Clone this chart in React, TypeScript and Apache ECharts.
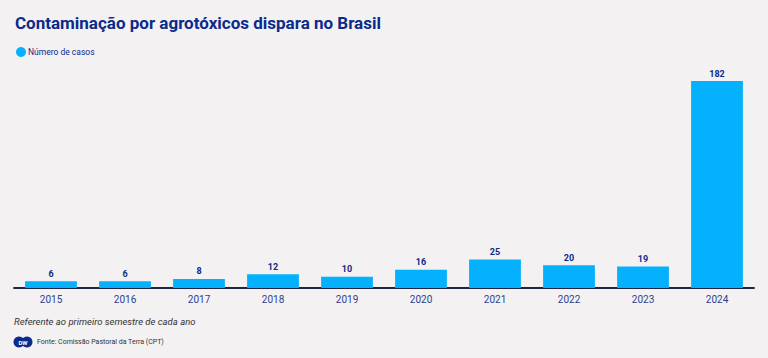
import React, { useEffect, useRef } from "react";
import * as echarts from "echarts";

const categories = ["2015", "2016", "2017", "2018", "2019", "2020", "2021", "2022", "2023", "2024"];
const casos = [6, 6, 8, 12, 10, 16, 25, 20, 19, 182];

const title = "Contaminação por agrotóxicos dispara no Brasil";
const seriesName = "Número de casos";
const note = "Referente ao primeiro semestre de cada ano";
const source = "Fonte: Comissão Pastoral da Terra (CPT)";

const NAVY = "#0b2a8a";
const BAR = "#05b1fc";
const FONT = "Roboto, 'Noto Sans', sans-serif";

export default function App() {
  const ref = useRef<HTMLDivElement>(null);
  useEffect(() => {
    if (!ref.current) return;
    const chart = echarts.init(ref.current, undefined, { renderer: "svg" });
    chart.setOption({
      animation: false,
      backgroundColor: "#f3f1f2",
      textStyle: { fontFamily: FONT },
      title: {
        text: title,
        left: 10,
        top: 9,
        textStyle: { color: NAVY, fontSize: 17, fontWeight: "bold", fontFamily: FONT },
      },
      legend: {
        left: 11,
        top: 42,
        icon: "circle",
        itemWidth: 10,
        itemHeight: 10,
        itemGap: 3,
        textStyle: { color: NAVY, fontSize: 8.5, fontFamily: FONT, padding: [0, 0, 0, -3] },
        data: [seriesName],
      },
      grid: { left: 14, right: 14, top: 81, bottom: 70, containLabel: false },
      xAxis: {
        type: "category",
        data: categories,
        axisLine: { lineStyle: { color: "#1d2540", width: 2 } },
        axisTick: { show: false },
        axisLabel: { color: "#2e3f8c", fontSize: 10, margin: 6, fontFamily: FONT },
      },
      yAxis: {
        type: "value",
        min: 0,
        max: 182,
        show: false,
        splitLine: { show: false },
      },
      series: [
        {
          name: seriesName,
          type: "bar",
          data: casos,
          barWidth: "70%",
          itemStyle: { color: BAR },
          label: {
            show: true,
            position: "top",
            distance: 3,
            color: NAVY,
            fontSize: 9,
            fontWeight: "bold",
            fontFamily: FONT,
          },
        },
      ],
      graphic: [
        {
          type: "text",
          left: 14,
          top: 316,
          style: { text: note, fill: "#333", font: `italic 9.5px ${FONT}` },
        },
        {
          type: "circle",
          shape: { cx: 19, cy: 342, r: 5.5 },
          style: { fill: NAVY },
        },
        {
          type: "circle",
          shape: { cx: 27, cy: 342, r: 5.5 },
          style: { fill: NAVY },
        },
        {
          type: "text",
          x: 23,
          y: 342,
          style: { text: "DW", fill: "#fff", font: `bold 6px ${FONT}`, align: "center", verticalAlign: "middle" },
        },
        {
          type: "text",
          left: 37,
          top: 338,
          style: { text: source, fill: "#333", font: `7px ${FONT}` },
        },
      ],
    });
    return () => chart.dispose();
  }, []);
  return <div ref={ref} style={{ width: 768, height: 358, position: "absolute", left: 0, top: 0 }} />;
}
